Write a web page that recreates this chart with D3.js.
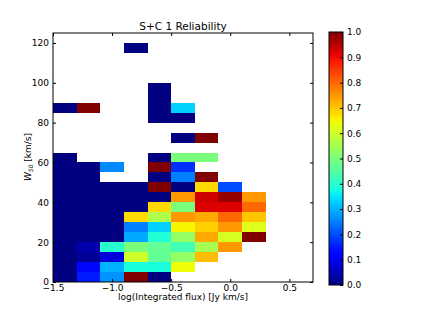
<!DOCTYPE html>
<html>
<head>
<meta charset="utf-8">
<script src="https://cdn.jsdelivr.net/npm/d3@7"></script>
<style>
  body { margin: 0; background: #fff; }
  svg text { font-family: "DejaVu Sans", sans-serif; fill: #000; }
</style>
</head>
<body>
<svg id="chart" width="421" height="316"></svg>
<script>
/* DATA: BIN STARTS AND RELIABILITY PER CELL (null = EMPTY BIN) */
var xBins = [-1.5, -1.3, -1.1, -0.9, -0.7, -0.5, -0.3, -0.1, 0.1];
var yBins = [0, 5, 10, 15, 20, 25, 30, 35, 40, 45, 50, 55, 60, 65, 70, 75, 80, 85, 90, 95, 100, 105, 110, 115];
var xStep = 0.2, yStep = 5;

// one row per W50 bin, one value per flux bin
var reliability = [
  [0.00, 0.15, 0.27, 1.00, 0.00, null, null, null, null],
  [0.00, 0.13, 0.30, 0.38, 0.38, 0.64, null, null, null],
  [0.00, 0.02, 0.08, 0.60, 0.47, 0.53, 0.71, null, null],
  [0.00, 0.04, 0.40, 0.50, 0.47, 0.43, 0.55, 0.75, null],
  [0.00, 0.00, 0.00, 0.29, 0.39, 0.53, 0.73, 0.61, 1.00],
  [0.00, 0.00, 0.00, 0.25, 0.33, 0.65, 0.69, 0.75, 0.62],
  [0.00, 0.00, 0.00, 0.68, 0.56, 0.75, 0.73, 0.80, 0.70],
  [0.00, 0.00, 0.00, 0.00, 0.68, 0.50, 0.92, 0.92, 0.80],
  [0.00, 0.00, 0.00, 0.00, 0.00, 0.75, 0.93, 0.98, 0.75],
  [0.00, 0.00, 0.00, 0.00, 1.00, 0.00, 0.68, 0.20, null],
  [0.00, 0.00, null, null, 0.00, 0.25, 1.00, null, null],
  [0.00, 0.00, 0.26, null, 1.00, 0.17, null, null, null],
  [0.00, null, null, null, 0.00, 0.50, 0.50, null, null],
  [null, null, null, null, null, null, null, null, null],
  [null, null, null, null, null, 0.00, 1.00, null, null],
  [null, null, null, null, null, null, null, null, null],
  [null, null, null, null, 0.00, 0.00, null, null, null],
  [0.00, 1.00, null, null, 0.00, 0.33, null, null, null],
  [null, null, null, null, 0.00, null, null, null, null],
  [null, null, null, null, 0.00, null, null, null, null],
  [null, null, null, null, null, null, null, null, null],
  [null, null, null, null, null, null, null, null, null],
  [null, null, null, null, null, null, null, null, null],
  [null, null, null, 0.00, null, null, null, null, null]
];

var xTicks = [-1.5, -1.0, -0.5, 0.0, 0.5];
var yTicks = [0, 20, 40, 60, 80, 100, 120];
var cTicks = [0.0, 0.1, 0.2, 0.3, 0.4, 0.5, 0.6, 0.7, 0.8, 0.9, 1.0];

/* JET COLOUR MAP (MATPLOTLIB SEGMENTS) */
var jetR = d3.scaleLinear([0, 0.35, 0.66, 0.89, 1], [0, 0, 1, 1, 0.5]).clamp(true);
var jetG = d3.scaleLinear([0, 0.125, 0.375, 0.64, 0.91, 1], [0, 0, 1, 1, 0, 0]).clamp(true);
var jetB = d3.scaleLinear([0, 0.11, 0.34, 0.65, 1], [0.5, 1, 1, 0, 0]).clamp(true);
function jet(v) {
  return d3.rgb(jetR(v) * 255, jetG(v) * 255, jetB(v) * 255).toString();
}

var svg = d3.select('#chart');
var fmtMinus = function(d) { return d3.format('.1f')(d).replace('-', '\u2212'); };

var x = d3.scaleLinear([-1.5, 0.7], [53, 313]);
var y = d3.scaleLinear([0, 125], [282, 33]);

/* CELLS */
var cells = [];
for (var r = 0; r < reliability.length; r++) {
  for (var c = 0; c < xBins.length; c++) {
    if (reliability[r][c] !== null) cells.push({x0: xBins[c], y0: yBins[r], v: reliability[r][c]});
  }
}
svg.append('g').selectAll('rect')
  .data(cells).enter().append('rect')
  .attr('x', function(d) { return x(d.x0); })
  .attr('y', function(d) { return y(d.y0 + yStep); })
  .attr('width', function(d) { return x(d.x0 + xStep) - x(d.x0); })
  .attr('height', function(d) { return y(d.y0) - y(d.y0 + yStep); })
  .attr('fill', function(d) { return jet(d.v); })
  .attr('shape-rendering', 'crispEdges');

/* AXES (TICKS INSIDE, ALL FOUR SIDES) */
function styleAxis(g) {
  g.select('.domain').remove();
  g.selectAll('line').attr('stroke', '#000');
  g.selectAll('text').attr('font-size', '9px').attr('font-family', '"DejaVu Sans", sans-serif');
}
svg.append('g').attr('transform', 'translate(0,282)')
  .call(d3.axisBottom(x).tickValues(xTicks).tickFormat(fmtMinus).tickSizeInner(-3).tickSizeOuter(0).tickPadding(3))
  .call(styleAxis);
svg.append('g').attr('transform', 'translate(0,33)')
  .call(d3.axisTop(x).tickValues(xTicks).tickFormat('').tickSizeInner(-3).tickSizeOuter(0))
  .call(styleAxis);
svg.append('g').attr('transform', 'translate(53,0)')
  .call(d3.axisLeft(y).tickValues(yTicks).tickFormat(d3.format('d')).tickSizeInner(-3).tickSizeOuter(0).tickPadding(4))
  .call(styleAxis);
svg.append('g').attr('transform', 'translate(313,0)')
  .call(d3.axisRight(y).tickValues(yTicks).tickFormat('').tickSizeInner(-3).tickSizeOuter(0))
  .call(styleAxis);

svg.append('rect')
  .attr('x', 53).attr('y', 33).attr('width', 260).attr('height', 249)
  .attr('fill', 'none').attr('stroke', '#000').attr('stroke-width', 1);

/* TITLE AND LABELS */
svg.append('text').attr('x', 183).attr('y', 30)
  .attr('text-anchor', 'middle').attr('font-size', '10.5px')
  .text('S+C 1 Reliability');
svg.append('text').attr('x', 183).attr('y', 300)
  .attr('text-anchor', 'middle').attr('font-size', '9px')
  .text('log(Integrated flux) [Jy km/s]');
var yl = svg.append('text')
  .attr('transform', 'translate(31,157) rotate(-90)')
  .attr('text-anchor', 'middle').attr('font-size', '9px');
yl.append('tspan').attr('font-style', 'italic').text('W');
yl.append('tspan').attr('font-size', '6px').attr('font-style', 'italic').attr('dy', 2).text('50');
yl.append('tspan').attr('dy', -2).text(' [km/s]');

/* COLOUR BAR */
var cy = d3.scaleLinear([0, 1], [285, 32]);
var grad = svg.append('defs').append('linearGradient')
  .attr('id', 'jetGrad').attr('x1', 0).attr('y1', 1).attr('x2', 0).attr('y2', 0);
grad.selectAll('stop').data(d3.range(0, 1.0001, 0.01)).enter().append('stop')
  .attr('offset', function(d) { return d; })
  .attr('stop-color', function(d) { return jet(d); });
svg.append('rect')
  .attr('x', 329).attr('y', cy(1)).attr('width', 14).attr('height', cy(0) - cy(1))
  .attr('fill', 'url(#jetGrad)').attr('stroke', '#000').attr('stroke-width', 1);
svg.append('g').attr('transform', 'translate(343,0)')
  .call(d3.axisRight(cy).tickValues(cTicks).tickFormat(d3.format('.1f')).tickSizeInner(-3).tickSizeOuter(0).tickPadding(4))
  .call(styleAxis);
</script>
</body>
</html>
